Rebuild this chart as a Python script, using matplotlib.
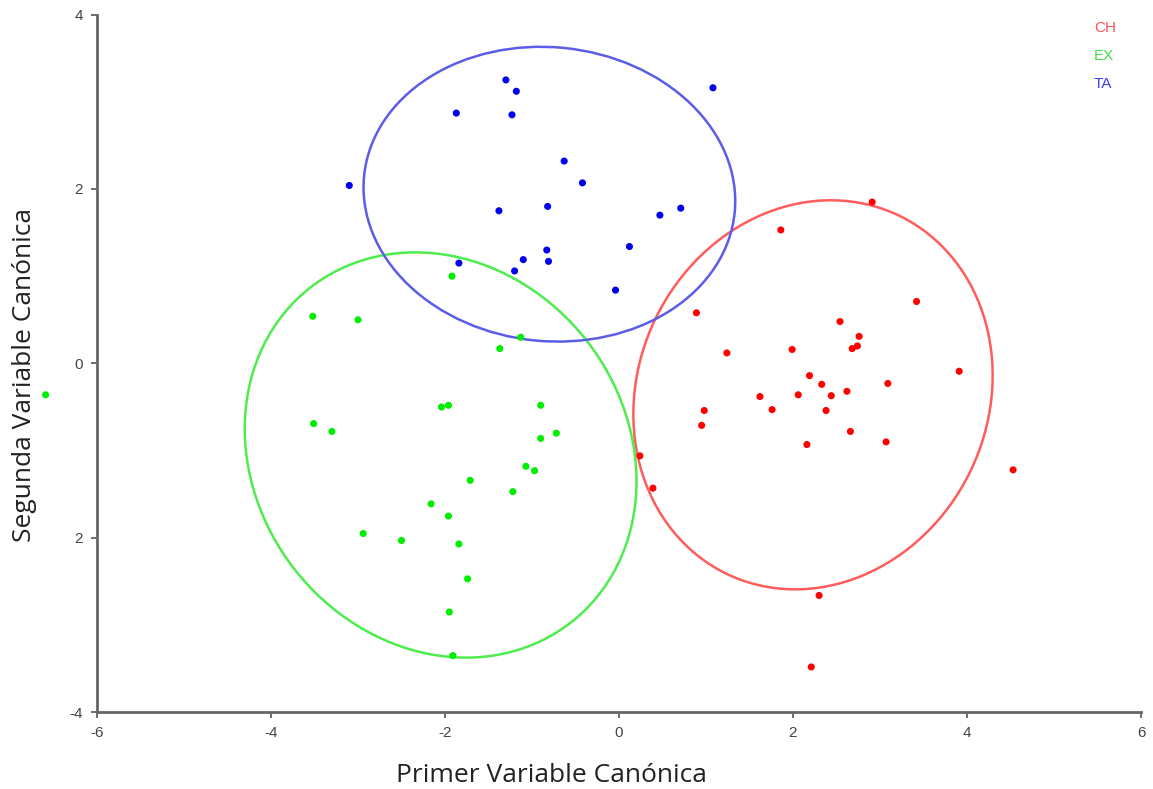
import matplotlib.pyplot as plt
from matplotlib.patches import Ellipse

plt.rcParams['font.family'] = ['Liberation Sans', 'DejaVu Sans']

# puntos por grupo (primera y segunda variable canónica)
ch_x = [2.91, 1.86, 3.42, 0.89, 2.54, 2.76, 2.74, 2.68, 1.24, 1.99, 3.91, 2.19, 2.33, 3.09, 2.62,
        1.62, 2.06, 2.44, 0.98, 1.76, 2.38, 0.95, 2.66, 3.07, 2.16, 0.24, 4.53, 0.39, 2.30, 2.21]
ch_y = [1.85, 1.53, 0.71, 0.58, 0.48, 0.31, 0.20, 0.17, 0.12, 0.16, -0.09, -0.14, -0.24, -0.23, -0.32,
        -0.38, -0.36, -0.37, -0.54, -0.53, -0.54, -0.71, -0.78, -0.90, -0.93, -1.06, -1.22, -1.43, -2.66, -3.48]

ex_x = [-1.92, -3.52, -3.00, -1.13, -1.37, -2.04, -1.96, -0.90, -3.51, -3.30, -0.90, -0.72, -1.07,
        -0.97, -1.71, -1.22, -2.16, -1.96, -2.94, -2.50, -1.84, -1.74, -1.95, -1.91, -6.59]
ex_y = [1.00, 0.54, 0.50, 0.30, 0.17, -0.50, -0.48, -0.48, -0.69, -0.78, -0.86, -0.80, -1.18,
        -1.23, -1.34, -1.47, -1.61, -1.75, -1.95, -2.03, -2.07, -2.47, -2.85, -3.35, -0.36]

ta_x = [-1.30, -1.18, -1.87, -1.23, 1.08, -3.10, -0.63, -0.42, -1.38, -0.82, 0.47, 0.71, 0.12,
        -0.83, -0.81, -1.10, -1.20, -1.84, -0.04]
ta_y = [3.25, 3.12, 2.87, 2.85, 3.16, 2.04, 2.32, 2.07, 1.75, 1.80, 1.70, 1.78, 1.34,
        1.30, 1.17, 1.19, 1.06, 1.15, 0.84]

# elipses: centro, ancho, alto, ángulo
groups = ['CH', 'EX', 'TA']
ell_cx = [2.23, -2.05, -0.80]
ell_cy = [-0.36, -1.05, 1.94]
ell_w = [4.56, 4.87, 4.28]
ell_h = [4.02, 4.26, 3.37]
ell_ang = [63.9, -51.8, -5.6]

point_colors = ['#ff0000', '#00ee00', '#0000ee']
line_colors = ['#ff5c5c', '#4ded4d', '#5c5ce8']
text_colors = ['#ff5050', '#40e040', '#4040e8']

fig = plt.figure(figsize=(11.53, 7.89), dpi=100)
ax = fig.add_axes([0.0841, 0.0972, 0.9055, 0.8844])

for xs, ys, c in zip([ch_x, ex_x, ta_x], [ch_y, ex_y, ta_y], point_colors):
    ax.scatter(xs, ys, s=26, color=c, edgecolors='none', clip_on=False, zorder=3)

for i in range(3):
    e = Ellipse((ell_cx[i], ell_cy[i]), ell_w[i], ell_h[i], angle=ell_ang[i],
                fill=False, edgecolor=line_colors[i], linewidth=1.8, zorder=2)
    ax.add_patch(e)

ax.set_xlim(-6, 6)
ax.set_ylim(-4, 4)
ax.set_xticks([-6, -4, -2, 0, 2, 4, 6])
ax.set_xticklabels(['-6', '-4', '-2', '0', '2', '4', '6'])
ax.set_yticks([-4, -2, 0, 2, 4])
ax.set_yticklabels(['-4', '2', '0', '2', '4'])

for side in ['top', 'right']:
    ax.spines[side].set_visible(False)
for side in ['left', 'bottom']:
    ax.spines[side].set_color('#666666')
    ax.spines[side].set_linewidth(2)
ax.tick_params(colors='#555555', labelcolor='#444444', labelsize=11, length=4, width=1.2, pad=6)

ax.set_xlabel('Primer Variable Canónica', fontsize=19, color='#222222', family=['Open Sans', 'DejaVu Sans'])
ax.set_ylabel('Segunda Variable Canónica', fontsize=19, color='#222222', family=['Open Sans', 'DejaVu Sans'])
ax.xaxis.set_label_coords(0.435, -0.09)
ax.yaxis.set_label_coords(-0.069, 0.483)
ax.xaxis.label.set_va('center')
ax.yaxis.label.set_va('center')

for i, g in enumerate(groups):
    ax.text(0.955, 0.98 - i * 0.04, g, transform=ax.transAxes, color=text_colors[i], fontsize=11,
            ha='left', va='center')

fig.savefig('out.png', dpi=100)
